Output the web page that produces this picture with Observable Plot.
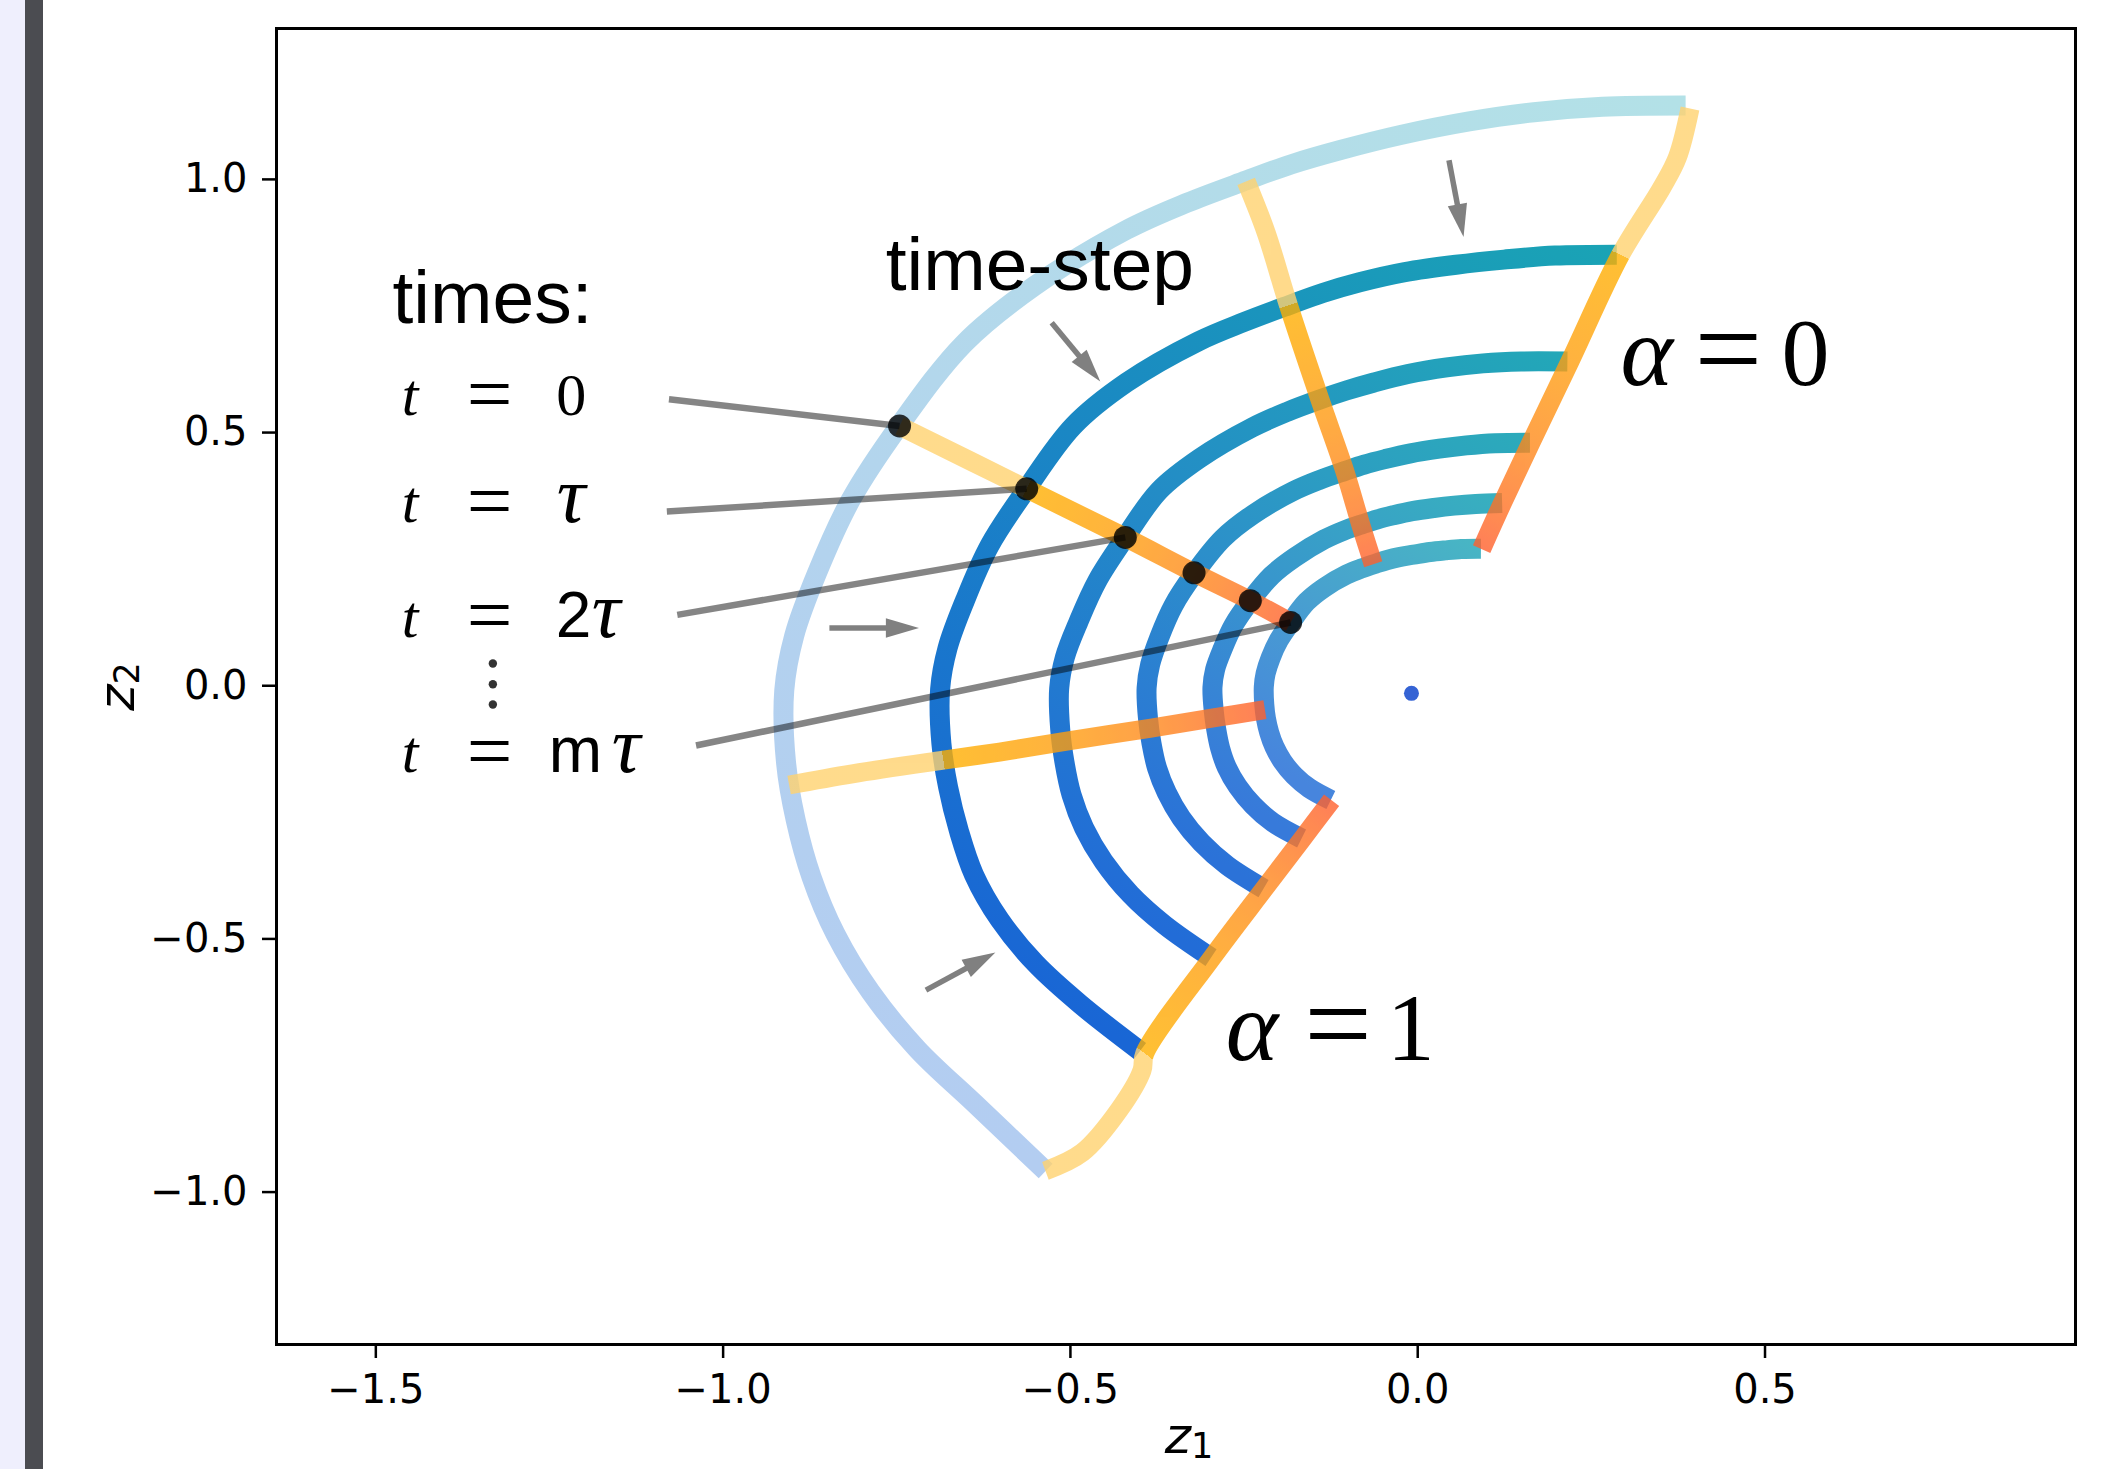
<!DOCTYPE html>
<html>
<head>
<meta charset="utf-8">
<script src="https://cdn.jsdelivr.net/npm/d3@7"></script>
<script src="https://cdn.jsdelivr.net/npm/@observablehq/plot@0.6"></script>
<style>
html, body { margin: 0; padding: 0; background: #ffffff; overflow: hidden; }
#wrap { position: relative; width: 2111px; height: 1469px; overflow: hidden; background: #ffffff; }
#chart { position: absolute; left: 0; top: 0; }
#stripA { position: absolute; left: 0; top: 0; width: 25px; height: 1469px; background: #efeffd; }
#stripB { position: absolute; left: 25px; top: 0; width: 18px; height: 1469px; background: #4b4c51; }
</style>
</head>
<body>
<div id="wrap"><div id="chart"></div><div id="stripA"></div><div id="stripB"></div></div>
<script>
// ---------------- data (data units) ----------------
const xTicks = [-1.5, -1.0, -0.5, 0.0, 0.5];
const yTicks = [-1.0, -0.5, 0.0, 0.5, 1.0];

// level curves at t = 0, τ, 2τ, ..., mτ ; points ordered from α = 0 to α = 1
const arcT0 = [[0.3857,1.1459],[0.2661,1.1435],[0.1673,1.1327],[0.0741,1.1145],[-0.0247,1.0877],[-0.1112,1.0581],[-0.1816,1.0301],[-0.2469,0.9979],[-0.3322,0.9538],[-0.4196,0.9000],[-0.5524,0.7889],[-0.6530,0.6761],[-0.7466,0.5132],[-0.8163,0.3669],[-0.8645,0.2236],[-0.8976,0.0991],[-0.9120,-0.0096],[-0.9094,-0.1521],[-0.8955,-0.2653],[-0.8728,-0.3776],[-0.8384,-0.4899],[-0.7878,-0.6045],[-0.7203,-0.7179],[-0.6378,-0.8252],[-0.5357,-0.9584]];
const arcT1 = [[0.2866,0.8514],[0.1977,0.8496],[0.1243,0.8416],[0.0552,0.8315],[-0.0185,0.8169],[-0.0837,0.7968],[-0.1367,0.7756],[-0.1859,0.7514],[-0.2501,0.7182],[-0.3168,0.6795],[-0.4192,0.5988],[-0.4957,0.5132],[-0.5637,0.3874],[-0.6163,0.2770],[-0.6518,0.1686],[-0.6768,0.0747],[-0.6876,-0.0072],[-0.6857,-0.1147],[-0.6761,-0.2003],[-0.6607,-0.2859],[-0.6388,-0.3733],[-0.6019,-0.4619],[-0.5503,-0.5485],[-0.4860,-0.6288],[-0.3998,-0.7212]];
const arcT2 = [[0.2155,0.6402],[0.1490,0.6403],[0.0940,0.6366],[0.0418,0.6286],[-0.0140,0.6156],[-0.0629,0.5989],[-0.1028,0.5830],[-0.1400,0.5658],[-0.1884,0.5408],[-0.2379,0.5103],[-0.3143,0.4488],[-0.3722,0.3854],[-0.4223,0.2902],[-0.4612,0.2073],[-0.4884,0.1263],[-0.5080,0.0561],[-0.5162,-0.0054],[-0.5147,-0.0861],[-0.5086,-0.1507],[-0.4984,-0.2156],[-0.4804,-0.2807],[-0.4522,-0.3470],[-0.4135,-0.4121],[-0.3648,-0.4720],[-0.2976,-0.5368]];
const arcT3 = [[0.1616,0.4801],[0.1115,0.4791],[0.0701,0.4747],[0.0311,0.4681],[-0.0104,0.4590],[-0.0470,0.4476],[-0.0770,0.4368],[-0.1049,0.4241],[-0.1415,0.4064],[-0.1792,0.3843],[-0.2370,0.3384],[-0.2808,0.2907],[-0.3218,0.2212],[-0.3518,0.1581],[-0.3718,0.0962],[-0.3851,0.0425],[-0.3903,-0.0041],[-0.3883,-0.0650],[-0.3833,-0.1135],[-0.3753,-0.1624],[-0.3613,-0.2111],[-0.3404,-0.2612],[-0.3112,-0.3101],[-0.2743,-0.3549],[-0.2220,-0.4005]];
const arcT4 = [[0.1215,0.3609],[0.0836,0.3590],[0.0525,0.3557],[0.0233,0.3511],[-0.0078,0.3448],[-0.0354,0.3365],[-0.0579,0.3286],[-0.0790,0.3194],[-0.1066,0.3062],[-0.1347,0.2889],[-0.1773,0.2532],[-0.2103,0.2177],[-0.2419,0.1662],[-0.2653,0.1192],[-0.2809,0.0727],[-0.2917,0.0322],[-0.2955,-0.0031],[-0.2937,-0.0491],[-0.2901,-0.0859],[-0.2845,-0.1231],[-0.2750,-0.1607],[-0.2592,-0.1989],[-0.2370,-0.2362],[-0.2086,-0.2699],[-0.1672,-0.3016]];
const arcT5 = [[0.0910,0.2704],[0.0628,0.2699],[0.0395,0.2673],[0.0176,0.2641],[-0.0059,0.2588],[-0.0267,0.2540],[-0.0438,0.2483],[-0.0598,0.2415],[-0.0807,0.2318],[-0.1024,0.2196],[-0.1353,0.1932],[-0.1600,0.1657],[-0.1826,0.1255],[-0.2000,0.0899],[-0.2118,0.0548],[-0.2190,0.0242],[-0.2216,-0.0023],[-0.2209,-0.0370],[-0.2185,-0.0647],[-0.2138,-0.0925],[-0.2063,-0.1205],[-0.1946,-0.1493],[-0.1779,-0.1773],[-0.1562,-0.2022],[-0.1251,-0.2256]];
const arcs = [arcT0, arcT1, arcT2, arcT3, arcT4, arcT5];

// trajectories of fixed α through time: [x, y, time step]
const trajAlpha0 = [[0.392,1.140,0],[0.374,1.044,0.3],[0.352,0.985,0.55],[0.292,0.851,1],[0.219,0.640,2],[0.163,0.480,3],[0.122,0.361,4],[0.092,0.270,5]];
const trajAlphaA = [[-0.247,0.996,0],[-0.218,0.894,0.4],[-0.186,0.751,1],[-0.141,0.566,2],[-0.105,0.424,3],[-0.082,0.318,4],[-0.064,0.240,5]];
const trajAlphaB = [[-0.746,0.513,0],[-0.563,0.389,1],[-0.421,0.293,2],[-0.322,0.223,3],[-0.241,0.168,4],[-0.183,0.125,5]];
const trajAlphaC = [[-0.905,-0.196,0],[-0.814,-0.174,0.45],[-0.683,-0.147,1],[-0.602,-0.131,1.5],[-0.512,-0.111,2],[-0.386,-0.084,3],[-0.292,-0.063,4],[-0.220,-0.047,5]];
const trajAlpha1 = [[-0.536,-0.958,0],[-0.483,-0.922,0.25],[-0.430,-0.838,0.55],[-0.397,-0.760,0.85],[-0.393,-0.726,1],[-0.296,-0.537,2],[-0.221,-0.401,3],[-0.166,-0.302,4],[-0.124,-0.226,5]];
const trajectories = [trajAlpha0, trajAlphaA, trajAlphaB, trajAlphaC, trajAlpha1];

// marked points (one α, all times) and the fixed point
const markedPoints = [[-0.746,0.513],[-0.563,0.389],[-0.421,0.293],[-0.322,0.223],[-0.241,0.168],[-0.183,0.125]];
const fixedPoint = [[-0.009,-0.015]];

// annotations
const wordLabels = ["times:", "time-step"];
const wordLabelPos = [[-1.476, 0.716], [-0.766, 0.781]];
const timeLabels = ["t = 0", "t = τ", "t = 2τ", "t = mτ"];
const timeLabelPos = [[-1.4625, 0.534], [-1.4625, 0.323], [-1.4625, 0.097], [-1.4625, -0.171]];
const timeLabelTarget = [0, 1, 2, 5];
const pointerStart = [[-1.078, 0.566], [-1.081, 0.344], [-1.066, 0.140], [-1.039, -0.118]];
const vdots = [[-1.3315, 0.044], [-1.3315, 0.003], [-1.3315, -0.037]];
const alphaLabels = ["α = 0", "α = 1"];
const alphaLabelPos = [[0.292, 0.593], [-0.2765, -0.740]];
const arrowFrom = [[0.045, 1.038], [-0.527, 0.717], [-0.847, 0.114], [-0.708, -0.601]];
const arrowTo   = [[0.066, 0.886], [-0.457, 0.601], [-0.718, 0.114], [-0.608, -0.527]];
const axisLabels = ["z1", "z2"];

// ---------------- layout / style ----------------
const W = 2111, H = 1469;
const M = {top: 28, right: 36, bottom: 125, left: 276};
const xDomain = [-1.643, 0.947], yDomain = [-1.301, 1.298];
const pxX = (W - M.left - M.right) / (xDomain[1] - xDomain[0]);
const pxY = (H - M.top - M.bottom) / (yDomain[1] - yDomain[0]);

const arcOpacity = [0.33, 1, 0.96, 0.92, 0.87, 0.8];
const tealEnd = "#1aa3b5", blueEnd = "#1966d5";
const arcColor = (k, a) => d3.interpolateRgb("#ffffff", d3.interpolateRgb(tealEnd, blueEnd)(a))(arcOpacity[k]);
const ramp = d3.interpolateRgbBasis(["#ffb000", "#ff9a14", "#ff7a22", "#ff602e"]);
const paleOrange = "#ffd26f";

const arcRows = arcs.flatMap((pts, k) => pts.map(([x, y]) => ({k, x, y})));
const oRows = trajectories.flatMap((pts, j) => pts.map(([x, y]) => ({j, x, y})));
const pointerRows = pointerStart.map(([x1, y1], i) => ({x1, y1, x2: markedPoints[timeLabelTarget[i]][0], y2: markedPoints[timeLabelTarget[i]][1]}));

// arrows: shaft + filled head (head tip at the arrow end)
const headLen = 12;
const arrowRows = arrowFrom.map(([x1, y1], i) => {
  const [x2, y2] = arrowTo[i];
  const dxp = (x2 - x1) * pxX, dyp = -(y2 - y1) * pxY;
  const len = Math.hypot(dxp, dyp), ux = dxp / len, uy = dyp / len;
  return {x1, y1, x2, y2, sx: x2 - ux * headLen / pxX, sy: y2 + uy * headLen / pxY,
          angle: Math.atan2(dxp, -dyp) * 180 / Math.PI};
});
const headSymbol = {draw(ctx, size) {
  const r = Math.sqrt(size / Math.PI), L = 2.55 * r, w = 0.75 * r;
  ctx.moveTo(0, 0); ctx.lineTo(w, L); ctx.lineTo(-w, L); ctx.closePath();
}};

const toRows = (labels, pos) => labels.map((text, i) => ({text, x: pos[i][0], y: pos[i][1]}));
const fmt = d3.format(".1f");

// gradient definitions (colour along α for level curves, along time for trajectories)
function gradients(index, scales) {
  const defs = d3.create("svg:defs");
  const proj = (p, a, b) => {
    const vx = b[0] - a[0], vy = b[1] - a[1];
    return Math.max(0, Math.min(1, ((p[0] - a[0]) * vx + (p[1] - a[1]) * vy) / (vx * vx + vy * vy)));
  };
  const scr = (p) => [scales.x(p[0]), scales.y(p[1])];
  arcs.forEach((pts, k) => {
    const a = scr(pts[0]), b = scr(pts[pts.length - 1]);
    const g = defs.append("linearGradient").attr("id", `arcG${k}`).attr("gradientUnits", "userSpaceOnUse")
      .attr("x1", a[0]).attr("y1", a[1]).attr("x2", b[0]).attr("y2", b[1]);
    for (const t of [0, 0.25, 0.5, 0.75, 1]) g.append("stop").attr("offset", t).attr("stop-color", arcColor(k, t));
  });
  trajectories.forEach((pts, j) => {
    const a = scr(pts[0]), b = scr(pts[pts.length - 1]);
    const g = defs.append("linearGradient").attr("id", `trG${j}`).attr("gradientUnits", "userSpaceOnUse")
      .attr("x1", a[0]).attr("y1", a[1]).attr("x2", b[0]).attr("y2", b[1]);
    g.append("stop").attr("offset", 0).attr("stop-color", paleOrange);
    for (const p of pts) {
      const t = proj(scr(p), a, b), s = p[2];
      if (s === 1) {
        g.append("stop").attr("offset", t).attr("stop-color", paleOrange);
        g.append("stop").attr("offset", t).attr("stop-color", ramp(0));
      } else if (s > 1) {
        g.append("stop").attr("offset", t).attr("stop-color", ramp((s - 1) / 4));
      }
    }
  });
  return defs.node();
}

const marks = [
  gradients,
  Plot.axisX({ticks: xTicks, tickFormat: fmt, tickSize: 14, tickPadding: 16, fontSize: 40, strokeWidth: 2.5, label: null}),
  Plot.axisY({ticks: yTicks, tickFormat: fmt, tickSize: 14, tickPadding: 15, fontSize: 40, strokeWidth: 2.5, label: null}),
  Plot.frame({stroke: "black", strokeWidth: 3}),
  Plot.line(arcRows, {x: "x", y: "y", z: "k", stroke: d => `url(#arcG${d.k})`, curve: "catmull-rom", strokeWidth: 20, strokeLinecap: "butt", strokeLinejoin: "round"}),
  Plot.line(oRows, {x: "x", y: "y", z: "j", stroke: d => `url(#trG${d.j})`, curve: "catmull-rom", strokeWidth: 19, strokeLinecap: "butt", strokeLinejoin: "round", className: "orng"}),
  Plot.link(pointerRows, {x1: "x1", y1: "y1", x2: "x2", y2: "y2", stroke: "black", strokeOpacity: 0.48, strokeWidth: 6.5}),
  Plot.link(arrowRows, {x1: "x1", y1: "y1", x2: "sx", y2: "sy", stroke: "#808080", strokeWidth: 5.5}),
  Plot.dot(arrowRows, {x: "x2", y: "y2", rotate: "angle", symbol: headSymbol, r: 13, fill: "#808080", stroke: "none"}),
  Plot.dot(markedPoints, {x: d => d[0], y: d => d[1], r: 11.5, fill: "black", fillOpacity: 0.8}),
  Plot.dot(fixedPoint, {x: d => d[0], y: d => d[1], r: 7.5, fill: "#3563d4"}),
  Plot.dot(vdots, {x: d => d[0], y: d => d[1], r: 4.2, fill: "#333333"}),
  Plot.text(toRows(wordLabels, wordLabelPos), {x: "x", y: "y", text: "text", textAnchor: "start", lineAnchor: "bottom", fontSize: 75, fontFamily: "Liberation Sans", fill: "black"}),
  Plot.text(toRows(timeLabels, timeLabelPos), {x: "x", y: "y", text: "text", textAnchor: "start", lineAnchor: "bottom", fontSize: 60, fontFamily: "Liberation Serif", fill: "black"}),
  Plot.text(toRows(alphaLabels, alphaLabelPos), {x: "x", y: "y", text: "text", textAnchor: "start", lineAnchor: "bottom", fontSize: 96, fontFamily: "Liberation Serif", fill: "black"}),
  Plot.text([axisLabels[0]], {frameAnchor: "bottom", text: d => d, dx: 13, dy: 108, textAnchor: "middle", lineAnchor: "bottom", fontSize: 50, fontFamily: "DejaVu Sans", fill: "black"}),
  Plot.text([axisLabels[1]], {frameAnchor: "left", text: d => d, dx: -143, rotate: -90, textAnchor: "middle", lineAnchor: "bottom", fontSize: 50, fontFamily: "DejaVu Sans", fill: "black"})
];

const chart = Plot.plot({
  width: W, height: H,
  marginTop: M.top, marginRight: M.right, marginBottom: M.bottom, marginLeft: M.left,
  x: {domain: xDomain},
  y: {domain: yDomain},
  color: {type: "identity"},
  style: {fontFamily: "DejaVu Sans", background: "transparent", color: "black", overflow: "visible"},
  marks
});

// ---------- post-processing: group opacity for trajectories, math typesetting ----------
const og = chart.querySelector("g.orng") || chart.querySelectorAll('g[aria-label="line"]')[1];
if (og) og.setAttribute("opacity", 0.8);

const IT = {family: "Liberation Serif", style: "italic"};
const RM = {family: "Liberation Serif", style: "normal"};
const SF = {family: "Liberation Sans", style: "normal"};
const layouts = {
  "t = 0":  [["t", IT, 0], ["=", RM, 65, 81, 5.5], ["0", RM, 154.5]],
  "t = τ":  [["t", IT, 0], ["=", RM, 65, 81, 5.5], ["τ", IT, 155, 80]],
  "t = 2τ": [["t", IT, 0], ["=", RM, 65, 81, 5.5], ["2", SF, 154, 64], ["τ", IT, 190, 80]],
  "t = mτ": [["t", IT, 0], ["=", RM, 65, 81, 5.5], ["m", SF, 147, 64], ["τ", IT, 210, 80]],
  "α = 0":  [["α", IT, 0, 100], ["=", RM, 74, 120, 4], ["0", RM, 161]],
  "α = 1":  [["α", IT, 0, 100], ["=", RM, 78.5, 120, 4], ["1", RM, 161]]
};
const NS = "http://www.w3.org/2000/svg";
chart.querySelectorAll("text").forEach((t) => {
  const key = t.textContent;
  if (layouts[key]) {
    const x0 = parseFloat(t.getAttribute("x")) || 0;
    t.textContent = "";
    for (const [s, f, dx, size, dy] of layouts[key]) {
      const ts = document.createElementNS(NS, "tspan");
      ts.setAttribute("x", x0 + dx);
      ts.setAttribute("y", dy ? dy : 0);
      ts.setAttribute("font-family", f.family);
      ts.setAttribute("font-style", f.style);
      if (size) ts.setAttribute("font-size", size);
      ts.textContent = s;
      t.appendChild(ts);
    }
  } else if (axisLabels.includes(key)) {
    t.textContent = "";
    const a = document.createElementNS(NS, "tspan");
    a.setAttribute("font-style", "italic");
    a.textContent = key[0];
    const b = document.createElementNS(NS, "tspan");
    b.setAttribute("font-size", 35);
    b.setAttribute("dy", 5);
    b.textContent = key.slice(1);
    t.appendChild(a); t.appendChild(b);
  }
});

document.getElementById("chart").appendChild(chart);
</script>
</body>
</html>
